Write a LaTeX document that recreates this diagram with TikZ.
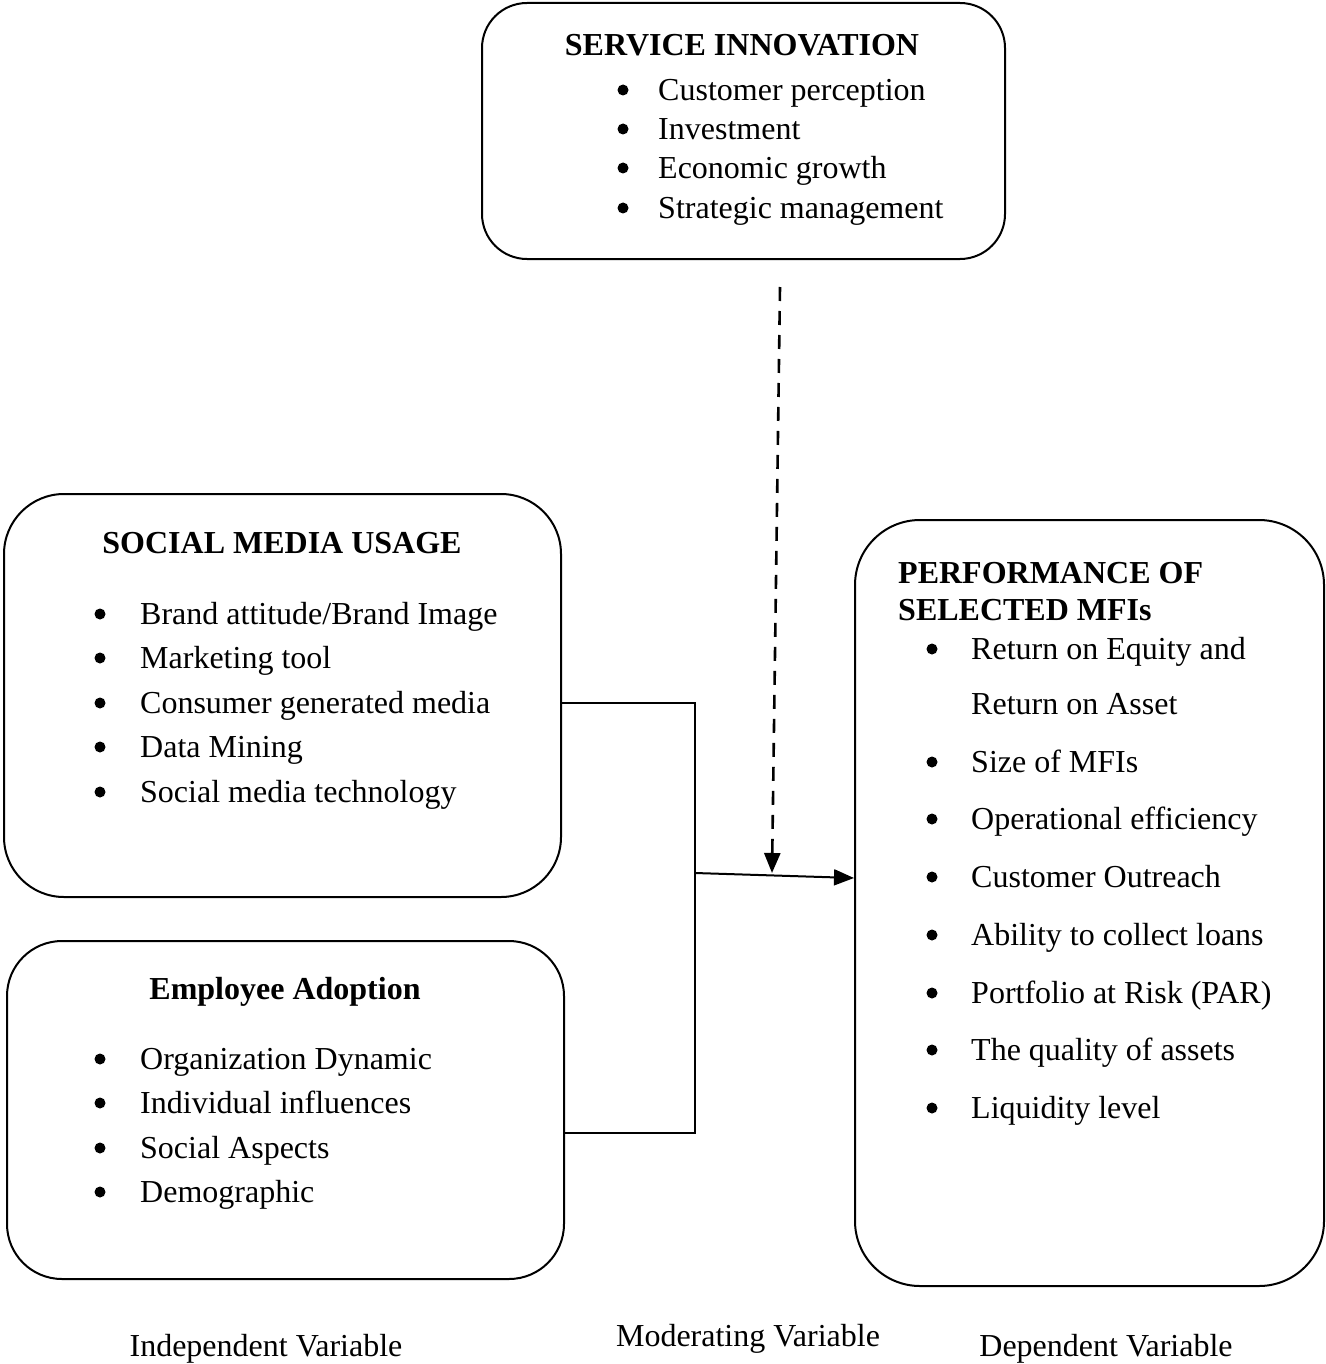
\documentclass[tikz,border=0pt]{standalone}
\usepackage{fontspec}
\setmainfont{Liberation Serif}
\usetikzlibrary{arrows.meta}
\begin{document}
\begin{tikzpicture}[x=1pt,y=-1pt,
  box/.style={draw,line width=2pt,rounded corners=#1,inner sep=0pt},
  item/.style={anchor=mid west,inner sep=0pt,yshift=-8pt,font=\fontsize{32}{38}\selectfont},
  title/.style={inner sep=0pt,anchor=mid,yshift=-8pt,font=\fontsize{32}{38}\selectfont\bfseries},
  ttl/.style={inner sep=0pt,anchor=mid west,yshift=-8pt,font=\fontsize{32}{38}\selectfont\bfseries},
  lab/.style={inner sep=0pt,anchor=mid,yshift=-8pt,font=\fontsize{32}{38}\selectfont},
  conn/.style={line width=2pt},
  tip/.style={-{Triangle[length=20pt,width=16pt]}},
  bul/.style={fill=black}]
\useasboundingbox (0,0) rectangle (1325,1364);
% boxes
\node[box=45pt,minimum width=523pt,minimum height=256pt] (si) at (743.5,131) {};
\node[box=60pt,minimum width=557pt,minimum height=403pt] (sm) at (282.5,695.5) {};
\node[box=55pt,minimum width=557pt,minimum height=338pt] (ea) at (285.5,1110) {};
\node[box=65pt,minimum width=469pt,minimum height=766pt] (pf) at (1089.5,903) {};
% service innovation
\node[title] (sit) at (742,45) {SERVICE INNOVATION};
\foreach \y/\t [count=\i] in {90/Customer perception,129/Investment,168/Economic growth,208/Strategic management}{
  \fill[bul] (623,\y) circle (5.5pt);
  \node[item] (si\i) at (658,\y) {\t};
}
% social media usage
\node[title] (smt) at (282,543) {SOCIAL MEDIA USAGE};
\foreach \y/\t [count=\i] in {614/{Brand attitude/Brand Image},658/Marketing tool,703/Consumer generated media,747/Data Mining,792/Social media technology}{
  \fill[bul] (100,\y) circle (5.5pt);
  \node[item] (sm\i) at (140,\y) {\t};
}
% employee adoption
\node[title] (eat) at (285,989) {Employee Adoption};
\foreach \y/\t [count=\i] in {1059/Organization Dynamic,1103/Individual influences,1148/Social Aspects,1192/Demographic}{
  \fill[bul] (100,\y) circle (5.5pt);
  \node[item] (ea\i) at (140,\y) {\t};
}
% performance
\node[ttl] (pft1) at (898,573) {PERFORMANCE OF};
\node[ttl] (pft2) at (898,610) {SELECTED MFIs};
\node[item] (pfa) at (971,649) {Return on Equity and};
\node[item] (pfb) at (971,704) {Return on Asset};
\fill[bul] (932,649) circle (5.5pt);
\foreach \y/\t [count=\i] in {762/Size of MFIs,819/Operational efficiency,877/Customer Outreach,935/Ability to collect loans,993/Portfolio at Risk (PAR),1050/The quality of assets,1108/Liquidity level}{
  \fill[bul] (932,\y) circle (5.5pt);
  \node[item] (pf\i) at (971,\y) {\t};
}
% connectors
\coordinate (j1) at (695,703);
\coordinate (j2) at (695,1133);
\coordinate (j3) at (695,873);
\coordinate (j4) at (772,873);
\coordinate (d1) at (780,287);
\draw[conn] (sm.east |- j1) -- (j1) -- (j2) -- (ea.east |- j2);
\draw[conn,tip] (j3) -- ([yshift=25pt]pf.west);
\draw[line width=2.6pt,tip,dash pattern=on 14pt off 10pt] (d1) -- (j4);
% labels
\node[lab] (l1) at (266,1346) {Independent Variable};
\node[lab] (l2) at (748,1336) {Moderating Variable};
\node[lab] (l3) at (1106,1346) {Dependent Variable};
\end{tikzpicture}
\end{document}
